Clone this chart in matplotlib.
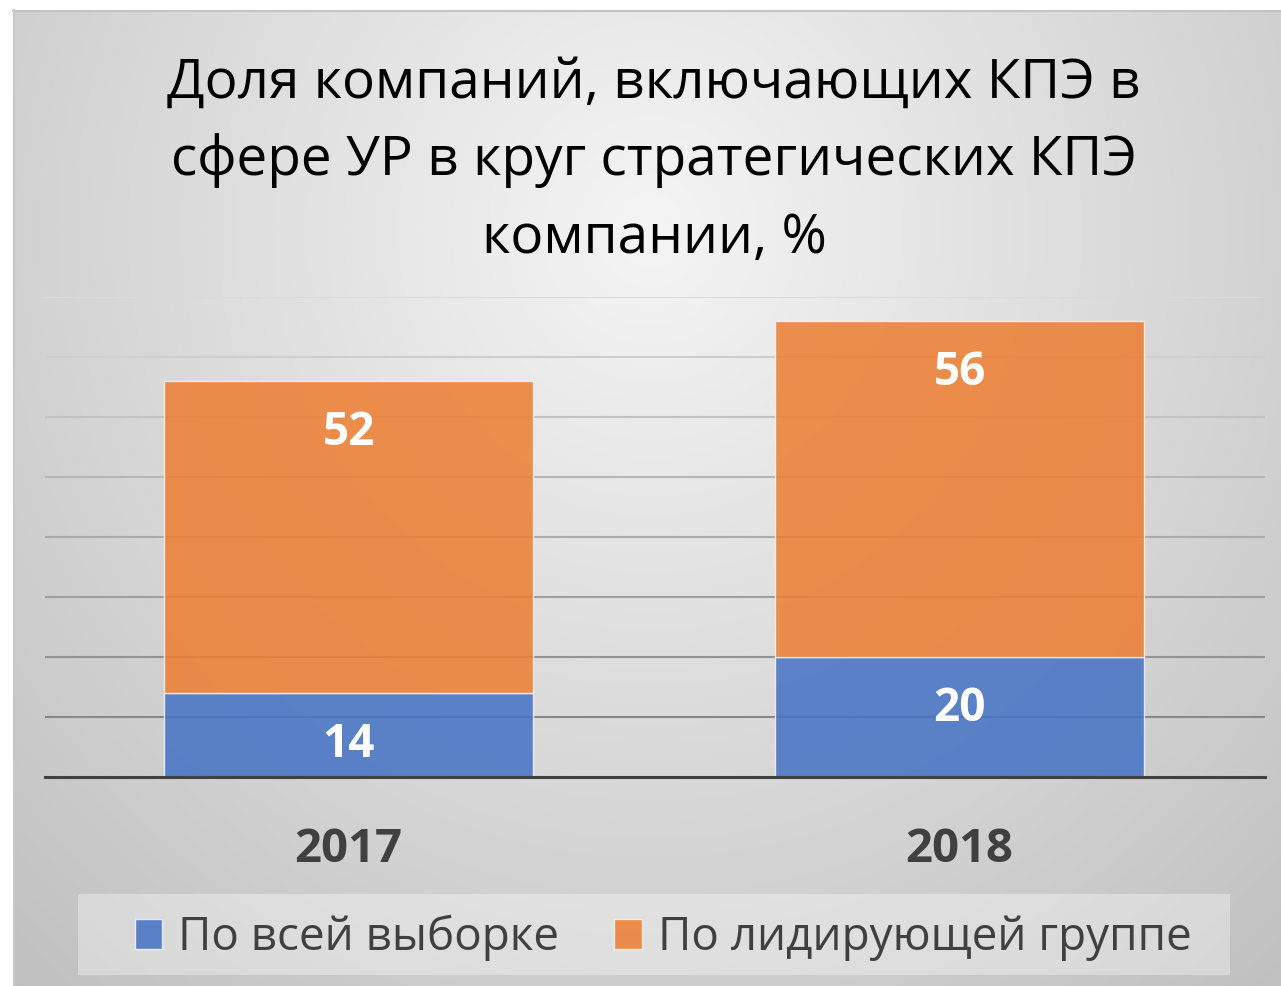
import numpy as np
import matplotlib
matplotlib.use("Agg")
import matplotlib.pyplot as plt
from matplotlib.patches import Rectangle
from matplotlib.colors import to_rgb

# ---- data ----
years = ["2017", "2018"]
whole_sample = [14, 20]
leading_group = [52, 56]
series_names = ["По всей выборке", "По лидирующей группе"]
title = "Доля компаний, включающих КПЭ в\nсфере УР в круг стратегических КПЭ\nкомпании, %"
grid_values = [10, 20, 30, 40, 50, 60, 70, 80]

W, H = 1281, 986
DPI = 100
plt.rcParams['font.family'] = ['Open Sans', 'DejaVu Sans']

fig = plt.figure(figsize=(W / DPI, H / DPI), dpi=DPI)
fig.patch.set_facecolor('white')

# ---- background radial gradient (chart area) ----
bg = fig.add_axes([0, 0, 1, 1], zorder=-10)
bg.set_xlim(0, W); bg.set_ylim(H, 0); bg.axis('off')
x0, y0 = 13, 10
xx, yy = np.meshgrid(np.arange(x0, W), np.arange(y0, H))
t = np.sqrt(((xx - 650) / 720.0) ** 2 + ((yy - 230) / 760.0) ** 2)
g = np.clip(245 - 40 * t, 0, 255) / 255.0
img = np.dstack([g, g, g])
bg.imshow(img, extent=[x0, W, H, y0], aspect='auto', interpolation='bilinear')
bg.plot([x0, W], [y0 + 0.5, y0 + 0.5], color='#c4c4c4', lw=1.5)
bg.plot([x0 + 0.5, x0 + 0.5], [y0, H], color='#c8c8c8', lw=1.5)

# legend box
bg.add_patch(Rectangle((78, 894), 1152, 81, facecolor='white', alpha=0.35,
                       edgecolor='none'))

# ---- main axes ----
left, right, bottom_px, top_px = 45, 1265, 777, 297
ax = fig.add_axes([left / W, (H - bottom_px) / H, (right - left) / W,
                   (bottom_px - top_px) / H])
ax.set_facecolor('none')
ax.set_xlim(-0.497, 1.5)
ax.set_ylim(0, 80)

# gridlines, darker toward the bottom
c_top = np.array(to_rgb('#dadada'))
c_bot = np.array(to_rgb('#878787'))
for v in grid_values:
    f = (v - 10) / 70.0
    c = c_bot * (1 - f) + c_top * f
    ax.axhline(v, color=c, lw=1.5, zorder=0)

x = np.arange(len(years))
blue = '#4472C4'
orange = '#ED7D31'
b1 = ax.bar(x, whole_sample, width=0.603, color=blue, alpha=0.85,
            edgecolor='#f4f4f4', linewidth=1, label=series_names[0], zorder=2)
b2 = ax.bar(x, leading_group, width=0.603, bottom=whole_sample, color=orange,
            alpha=0.85, edgecolor='#f4f4f4', linewidth=1,
            label=series_names[1], zorder=2)

for cont, vals in ((b1, whole_sample), (b2, leading_group)):
    labels = ax.bar_label(cont, labels=[str(v) for v in vals],
                          label_type='edge', padding=-37,
                          color='white', fontsize=33, fontweight='bold',
                          zorder=5)
    for lab in labels:
        lab.set_va('center')

for s in ['top', 'right', 'left']:
    ax.spines[s].set_visible(False)
ax.spines['bottom'].set_color('#404040')
ax.spines['bottom'].set_linewidth(2.2)
ax.spines['bottom'].set_zorder(4)
ax.set_yticks([])
ax.set_xticks(x)
ax.set_xticklabels(years, fontsize=34, fontweight='bold', color='#404040')
ax.tick_params(axis='x', length=0, pad=35)

# title
fig.text(654 / W, 1 - 161 / H, title, ha='center', va='center',
         fontsize=39.5, color='black', linespacing=1.54)

# legend
leg = fig.legend(handles=[b1, b2], labels=series_names, loc='center',
                 bbox_to_anchor=(663 / W, 1 - 938 / H), ncol=2,
                 frameon=False, fontsize=33, labelcolor='#404040',
                 handlelength=0.6, handleheight=0.6, handletextpad=0.35,
                 columnspacing=1.2)
for h in leg.legend_handles:
    h.set_alpha(0.85)

fig.savefig('out.png', dpi=DPI, facecolor='white')
